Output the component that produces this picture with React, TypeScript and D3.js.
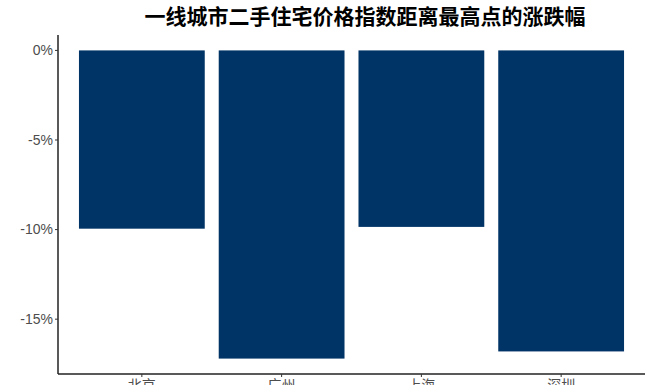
import React from "react";
import * as d3 from "d3";

const title = "一线城市二手住宅价格指数距离最高点的涨跌幅";
const cities = ["北京", "广州", "上海", "深圳"];
const changes = [-9.95, -17.2, -9.85, -16.8];
const yTicks = [0, -5, -10, -15];

const W = 651;
const H = 385;
const M = { left: 58, right: 6, top: 35, bottom: 11 };

export default function App() {
  const x = d3
    .scaleBand<string>()
    .domain(cities)
    .range([M.left + 0.6 * 139.7 - 0.5 * 139.7, W - M.right - 0.1 * 139.7])
    .paddingInner(0.1)
    .paddingOuter(0.05);
  const yMin = d3.min(changes) as number;
  const span = 0 - yMin;
  const y = d3
    .scaleLinear()
    .domain([yMin - span * 0.05, 0 + span * 0.05])
    .range([H - M.bottom, M.top]);

  const axisBottom = H - M.bottom;
  return (
    <svg
      width={W}
      height={H}
      style={{ position: "absolute", left: 0, top: 0, background: "#fff" }}
      fontFamily="Liberation Sans, Arial, sans-serif"
    >
      <text
        x={365}
        y={24}
        textAnchor="middle"
        fontSize={21}
        fontWeight="bold"
        fontFamily="Noto Sans CJK SC, sans-serif"
        fill="#000"
      >
        {title}
      </text>
      {cities.map((c, i) => {
        const v = changes[i];
        return (
          <rect
            key={c}
            x={x(c)}
            width={x.bandwidth()}
            y={y(Math.max(0, v))}
            height={Math.abs(y(v) - y(0))}
            fill="#003366"
          />
        );
      })}
      <line x1={M.left} x2={M.left} y1={M.top} y2={axisBottom} stroke="#222" strokeWidth={1.5} />
      <line x1={M.left} x2={W - M.right} y1={axisBottom} y2={axisBottom} stroke="#222" strokeWidth={1.5} />
      {yTicks.map((t) => (
        <g key={t}>
          <line x1={M.left - 3} x2={M.left} y1={y(t)} y2={y(t)} stroke="#333" />
          <text x={M.left - 5} y={y(t)} dy="0.35em" textAnchor="end" fontSize={14} fill="#4d4d4d">
            {t + "%"}
          </text>
        </g>
      ))}
      {cities.map((c) => {
        const cx = (x(c) as number) + x.bandwidth() / 2;
        return (
          <g key={c}>
            <line x1={cx} x2={cx} y1={axisBottom} y2={axisBottom + 3} stroke="#333" />
            <text
              x={cx}
              y={axisBottom + 16}
              textAnchor="middle"
              fontSize={14}
              fill="#4d4d4d"
              fontFamily="Noto Sans CJK SC, sans-serif"
            >
              {c}
            </text>
          </g>
        );
      })}
    </svg>
  );
}
